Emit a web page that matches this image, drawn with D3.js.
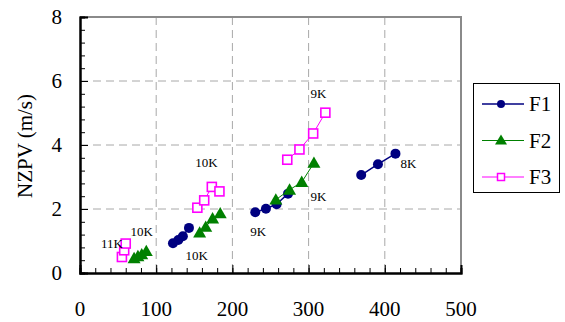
<!DOCTYPE html>
<html><head><meta charset="utf-8">
<script src="https://cdn.jsdelivr.net/npm/d3@7"></script>
<style>
html,body{margin:0;padding:0;background:#fff;}
svg{display:block;}
svg text{font-family:"Liberation Serif","Times New Roman","DejaVu Serif",serif;}
</style></head>
<body><svg id="c" width="565" height="322"></svg>
<script>
// ---- data ----
const seriesNames = ["F1", "F2", "F3"];
const seriesColors = ["#000080", "#008000", "#FF00FF"];
// each series: groups of [x, y] points (each group is a separate connected run)
const f1Groups = [
  [[122, 0.93], [129, 1.03], [135, 1.15], [143, 1.41]],
  [[230, 1.90], [244, 2.01], [258, 2.15], [273, 2.48]],
  [[369, 3.06], [391, 3.40], [414, 3.73]]
];
const f2Groups = [
  [[71, 0.46], [76, 0.52], [81, 0.58], [87, 0.68]],
  [[157, 1.26], [165, 1.44], [174, 1.70], [184, 1.86]],
  [[257, 2.29], [275, 2.60], [291, 2.84], [307, 3.44]]
];
const f3Groups = [
  [[55, 0.50], [58, 0.71], [60, 0.92]],
  [[154, 2.04], [163, 2.27], [173, 2.69], [183, 2.55]],
  [[272, 3.54], [288, 3.86], [306, 4.36], [322, 5.01]]
];
const noteTexts = ["11K", "10K", "10K", "10K", "9K", "9K", "9K", "8K"];
const noteX = [42, 81, 166, 153, 313, 313, 234, 431];
const noteY = [0.92, 1.31, 3.45, 0.55, 5.62, 2.38, 1.31, 3.42];
const xTicks = [0, 100, 200, 300, 400, 500];
const yTicks = [0, 2, 4, 6, 8];
const yTitle = "NZPV (m/s)";

// ---- layout ----
const FONT = "Liberation Serif, DejaVu Serif, serif";
const svg = d3.select("#c").attr("font-family", FONT);
const L = 80, R = 461, T = 17, B = 273;
const x = d3.scaleLinear().domain([0, 500]).range([L, R]);
const y = d3.scaleLinear().domain([0, 8]).range([B, T]);

// gridlines
const g = svg.append("g");
g.selectAll(".vg").data(xTicks.filter(d => d > 0 && d < 500)).enter().append("line")
  .attr("x1", d => x(d)).attr("x2", d => x(d)).attr("y1", T).attr("y2", B)
  .attr("stroke", "#a8a8a8").attr("stroke-width", 1).attr("stroke-dasharray", "8,5");
g.selectAll(".hg").data(yTicks.filter(d => d > 0 && d < 8)).enter().append("line")
  .attr("x1", L).attr("x2", R).attr("y1", d => y(d)).attr("y2", d => y(d))
  .attr("stroke", "#a8a8a8").attr("stroke-width", 1).attr("stroke-dasharray", "8,5");

// top / right frame (gray)
svg.append("path").attr("d", `M${L},${T}H${R}V${B}`).attr("fill", "none")
  .attr("stroke", "#8a8a8a").attr("stroke-width", 2);

// axes with inward ticks
const xMinor = d3.range(0, 501, 20);
const yMinor = d3.range(0, 8.01, 0.4);
const xAxisMinor = d3.axisTop(x).tickValues(xMinor).tickSize(5).tickFormat("");
const xAxisMajor = d3.axisTop(x).tickValues(xTicks).tickSize(8).tickFormat("");
const yAxisMinor = d3.axisRight(y).tickValues(yMinor).tickSize(5).tickFormat("");
const yAxisMajor = d3.axisRight(y).tickValues(yTicks).tickSize(8).tickFormat("");
[xAxisMinor, xAxisMajor].forEach(a => {
  const ga = svg.append("g").attr("transform", `translate(0,${B})`).call(a);
  ga.select(".domain").attr("stroke", "#000").attr("stroke-width", 2);
  ga.selectAll(".tick line").attr("stroke", "#000").attr("stroke-width", 1);
});
[yAxisMinor, yAxisMajor].forEach(a => {
  const ga = svg.append("g").attr("transform", `translate(${L},0)`).call(a);
  ga.select(".domain").attr("stroke", "#000").attr("stroke-width", 2);
  ga.selectAll(".tick line").attr("stroke", "#000").attr("stroke-width", 1);
});

// tick labels
svg.selectAll(".xl").data(xTicks).enter().append("text")
  .attr("x", d => x(d)).attr("y", 316).attr("text-anchor", "middle")
  .attr("font-family", FONT).attr("font-size", 21).attr("fill", "#000").text(d => d);
svg.selectAll(".yl").data(yTicks).enter().append("text")
  .attr("x", 62).attr("y", d => y(d) + 7).attr("text-anchor", "end")
  .attr("font-family", FONT).attr("font-size", 21).attr("fill", "#000").text(d => d);

// y title
svg.append("text").attr("transform", `translate(32,146) rotate(-90)`)
  .attr("text-anchor", "middle").attr("font-family", FONT).attr("font-size", 21)
  .attr("fill", "#000").text(yTitle);

// series
const allGroups = [f1Groups, f2Groups, f3Groups];
const line = d3.line().x(d => x(d[0])).y(d => y(d[1]));
const lineW = [1.5, 1, 1];
function drawMarker(sel, i, px, py) {
  const c = seriesColors[i];
  if (i === 0) {
    sel.append("circle").attr("cx", px).attr("cy", py).attr("r", 5).attr("fill", c);
  } else if (i === 1) {
    const s = 6.5;
    sel.append("path").attr("d", `M${px},${py - s}L${px + s},${py + s * 0.75}L${px - s},${py + s * 0.75}Z`).attr("fill", c);
  } else {
    sel.append("rect").attr("x", px - 4.5).attr("y", py - 4.5).attr("width", 9).attr("height", 9)
      .attr("fill", "#fff").attr("stroke", c).attr("stroke-width", 1.6);
  }
}
allGroups.forEach((groups, i) => {
  const sg = svg.append("g");
  groups.forEach(grp => {
    sg.append("path").attr("d", line(grp)).attr("fill", "none")
      .attr("stroke", seriesColors[i]).attr("stroke-width", lineW[i]);
  });
  groups.forEach(grp => grp.forEach(p => drawMarker(sg, i, x(p[0]), y(p[1]))));
});

// annotations
noteTexts.forEach((t, k) => {
  svg.append("text").attr("x", x(noteX[k])).attr("y", y(noteY[k])).attr("dy", "0.35em")
    .attr("text-anchor", "middle").attr("font-family", FONT).attr("font-size", 13)
    .attr("fill", "#000").text(t);
});

// legend
const lg = svg.append("g");
lg.append("rect").attr("x", 473.5).attr("y", 83.5).attr("width", 86).attr("height", 109)
  .attr("fill", "#fff").attr("stroke", "#000").attr("stroke-width", 1);
const legY = d3.scalePoint().domain(seriesNames).range([104, 177]);
seriesNames.forEach((n, i) => {
  const ly = legY(n);
  lg.append("line").attr("x1", 482).attr("x2", 524).attr("y1", ly).attr("y2", ly)
    .attr("stroke", seriesColors[i]).attr("stroke-width", lineW[i]);
  if (i === 0) lg.append("circle").attr("cx", 501).attr("cy", ly).attr("r", 4).attr("fill", seriesColors[i]);
  else if (i === 1) lg.append("path").attr("d", `M501,${ly - 6}L507,${ly + 4}L495,${ly + 4}Z`).attr("fill", seriesColors[i]);
  else lg.append("rect").attr("x", 497.5).attr("y", ly - 3.5).attr("width", 7).attr("height", 7)
    .attr("fill", "#fff").attr("stroke", seriesColors[i]).attr("stroke-width", 1.5);
  lg.append("text").attr("x", 529).attr("y", ly + 7).attr("font-family", FONT)
    .attr("font-size", 21).attr("fill", "#000").text(n);
});
</script></body></html>
